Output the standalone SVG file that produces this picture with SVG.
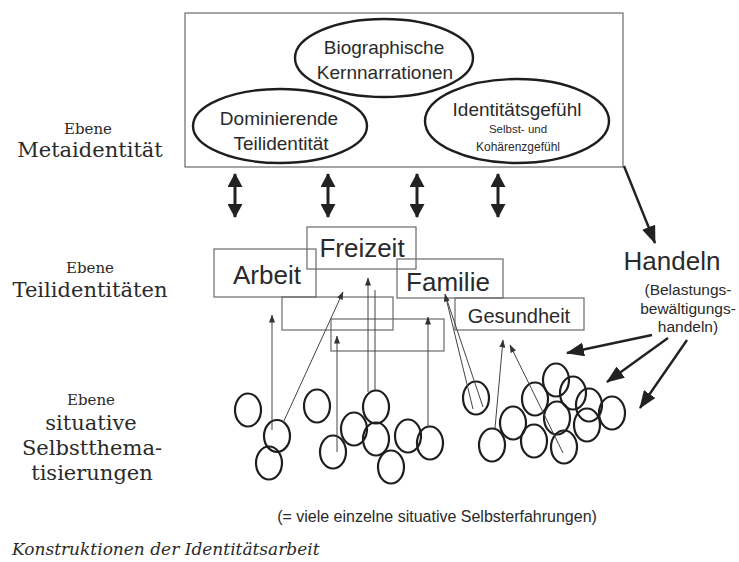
<svg xmlns="http://www.w3.org/2000/svg" width="739" height="562" viewBox="0 0 739 562">
<style>
.sans{font-family:"Liberation Sans",Arial,sans-serif;fill:#2a2a2a;text-anchor:middle}
.serif{font-family:"DejaVu Serif","Liberation Serif",serif;fill:#2a2a2a;text-anchor:middle}
.frame{fill:none;stroke:#6a6a6a;stroke-width:1.2}
.ell{fill:none;stroke:#1e1e1e;stroke-width:2.4}
.circ{fill:none;stroke:#1e1e1e;stroke-width:2.2}
.thin{fill:none;stroke:#444;stroke-width:1}
.dbl{stroke:#222;stroke-width:3;fill:none}
.big{stroke:#222;stroke-width:2.4;fill:none}
</style>
<defs>
<marker id="hd" viewBox="0 0 14 15" refX="13" refY="7.5" markerWidth="14" markerHeight="15" markerUnits="userSpaceOnUse" orient="auto-start-reverse"><path d="M0,0 L14,7.5 L0,15 z" fill="#222"/></marker>
<marker id="hb" viewBox="0 0 18 14" refX="17" refY="7" markerWidth="18" markerHeight="14" markerUnits="userSpaceOnUse" orient="auto"><path d="M0,0 L18,7 L0,14 z" fill="#222"/></marker>
<marker id="hs" viewBox="0 0 8 6" refX="7.5" refY="3" markerWidth="8" markerHeight="6" markerUnits="userSpaceOnUse" orient="auto"><path d="M0,0 L8,3 L0,6 z" fill="#333"/></marker>
</defs>
<rect width="739" height="562" fill="#fff"/>

<g id="levels">
<text class="serif" x="88" y="134" font-size="15">Ebene</text>
<text class="serif" x="90" y="157" font-size="21">Metaidentität</text>
<text class="serif" x="90" y="273" font-size="15">Ebene</text>
<text class="serif" x="90" y="297" font-size="21">Teilidentitäten</text>
<text class="serif" x="91" y="405" font-size="15">Ebene</text>
<text class="serif" x="91" y="430" font-size="21">situative</text>
<text class="serif" x="92" y="455" font-size="21">Selbstthema-</text>
<text class="serif" x="92" y="480" font-size="21">tisierungen</text>
</g>

<g id="meta-frame"><rect class="frame" x="185" y="13" width="438" height="154"/></g>

<g id="biographische">
<ellipse class="ell" cx="384" cy="58" rx="89" ry="39"/>
<text class="sans" x="384" y="54" font-size="19">Biographische</text>
<text class="sans" x="385" y="79" font-size="19">Kernnarrationen</text>
</g>
<g id="dominierende">
<ellipse class="ell" cx="280" cy="126" rx="87" ry="37"/>
<text class="sans" x="279" y="125" font-size="19">Dominierende</text>
<text class="sans" x="281" y="150" font-size="19">Teilidentität</text>
</g>
<g id="identitaetsgefuehl">
<ellipse class="ell" cx="517" cy="121" rx="92" ry="42"/>
<text class="sans" x="517" y="116" font-size="19">Identitätsgefühl</text>
<text class="sans" x="518" y="133" font-size="11.5">Selbst- und</text>
<text class="sans" x="518" y="151" font-size="12">Kohärenzgefühl</text>
</g>

<g id="box-extra1"><rect class="frame" x="282" y="297" width="111" height="33"/></g>
<g id="box-extra2"><rect class="frame" x="331" y="319" width="113" height="32"/></g>
<g id="arbeit">
<rect class="frame" x="214" y="249" width="102" height="48"/>
<text class="sans" x="267" y="284" font-size="26">Arbeit</text>
</g>
<g id="freizeit">
<rect class="frame" x="307" y="227" width="109" height="42"/>
<text class="sans" x="362" y="257" font-size="26">Freizeit</text>
</g>
<g id="familie">
<rect class="frame" x="397" y="259" width="106" height="39"/>
<text class="sans" x="448" y="291" font-size="26">Familie</text>
</g>
<g id="gesundheit">
<rect class="frame" x="455" y="298" width="129" height="32"/>
<text class="sans" x="519" y="323" font-size="20">Gesundheit</text>
</g>

<g id="handeln">
<text class="sans" x="672" y="270" font-size="26">Handeln</text>
<text class="sans" x="688" y="295" font-size="15.5">(Belastungs-</text>
<text class="sans" x="688" y="314" font-size="15.5">bewältigungs-</text>
<text class="sans" x="688" y="332" font-size="15.5">handeln)</text>
</g>

<g id="situations">
<ellipse class="circ" cx="248" cy="410" rx="13" ry="16.5"/>
<ellipse class="circ" cx="277" cy="436" rx="13" ry="16"/>
<ellipse class="circ" cx="269" cy="463" rx="13" ry="16.5"/>
<ellipse class="circ" cx="317" cy="406" rx="13" ry="16.5"/>
<ellipse class="circ" cx="333" cy="452" rx="13" ry="16.5"/>
<ellipse class="circ" cx="354" cy="429" rx="13" ry="16.5"/>
<ellipse class="circ" cx="376" cy="407" rx="13" ry="16.5"/>
<ellipse class="circ" cx="376" cy="439" rx="13" ry="16.5"/>
<ellipse class="circ" cx="391" cy="467" rx="13" ry="16.5"/>
<ellipse class="circ" cx="408" cy="436" rx="13" ry="16.5"/>
<ellipse class="circ" cx="430" cy="443" rx="13" ry="16.5"/>
<ellipse class="circ" cx="476" cy="398" rx="13" ry="16.5"/>
<ellipse class="circ" cx="492" cy="445" rx="13" ry="16.5"/>
<ellipse class="circ" cx="513" cy="423" rx="13" ry="16.5"/>
<ellipse class="circ" cx="535" cy="399" rx="13" ry="16.5"/>
<ellipse class="circ" cx="556" cy="380" rx="13" ry="16.5"/>
<ellipse class="circ" cx="534" cy="441" rx="13" ry="16.5"/>
<ellipse class="circ" cx="557" cy="418" rx="13" ry="16.5"/>
<ellipse class="circ" cx="564" cy="447" rx="13" ry="16.5"/>
<ellipse class="circ" cx="573" cy="393" rx="13" ry="16.5"/>
<ellipse class="circ" cx="589" cy="405" rx="13" ry="16.5"/>
<ellipse class="circ" cx="587" cy="425" rx="13" ry="16.5"/>
<ellipse class="circ" cx="612" cy="413" rx="13" ry="16.5"/>
</g>

<g id="connectors">
<line class="dbl" x1="235" y1="174" x2="235" y2="217" marker-start="url(#hd)" marker-end="url(#hd)"/>
<line class="dbl" x1="328" y1="174" x2="328" y2="217" marker-start="url(#hd)" marker-end="url(#hd)"/>
<line class="dbl" x1="417" y1="174" x2="417" y2="217" marker-start="url(#hd)" marker-end="url(#hd)"/>
<line class="dbl" x1="498" y1="174" x2="498" y2="217" marker-start="url(#hd)" marker-end="url(#hd)"/>
<line class="big" x1="624" y1="166" x2="655" y2="243" marker-end="url(#hb)"/>
<line class="big" x1="652" y1="335" x2="567" y2="353" marker-end="url(#hb)"/>
<line class="big" x1="668" y1="338" x2="607" y2="382" marker-end="url(#hb)"/>
<line class="big" x1="687" y1="340" x2="640" y2="408" marker-end="url(#hb)"/>
<line class="thin" x1="272" y1="430" x2="272" y2="315" marker-end="url(#hs)"/>
<line class="thin" x1="283" y1="423" x2="343" y2="292" marker-end="url(#hs)"/>
<line class="thin" x1="337" y1="452" x2="337" y2="336" marker-end="url(#hs)"/>
<line class="thin" x1="368" y1="392" x2="368" y2="278" marker-end="url(#hs)"/>
<line class="thin" x1="375" y1="390" x2="375" y2="290"/>
<line class="thin" x1="428" y1="428" x2="428" y2="317" marker-end="url(#hs)"/>
<line class="thin" x1="473" y1="409" x2="445" y2="294" marker-end="url(#hs)"/>
<line class="thin" x1="483" y1="407" x2="447" y2="300"/>
<line class="thin" x1="495" y1="428" x2="503" y2="340" marker-end="url(#hs)"/>
<line class="thin" x1="563" y1="453" x2="510" y2="345" marker-end="url(#hs)"/>
</g>

<g id="captions">
<text class="sans" x="437" y="522" font-size="16">(= viele einzelne situative Selbsterfahrungen)</text>
<text x="12" y="555" font-family="DejaVu Serif,'Liberation Serif',serif" font-style="italic" font-size="17" fill="#2a2a2a">Konstruktionen der Identitätsarbeit</text>
</g>
</svg>
